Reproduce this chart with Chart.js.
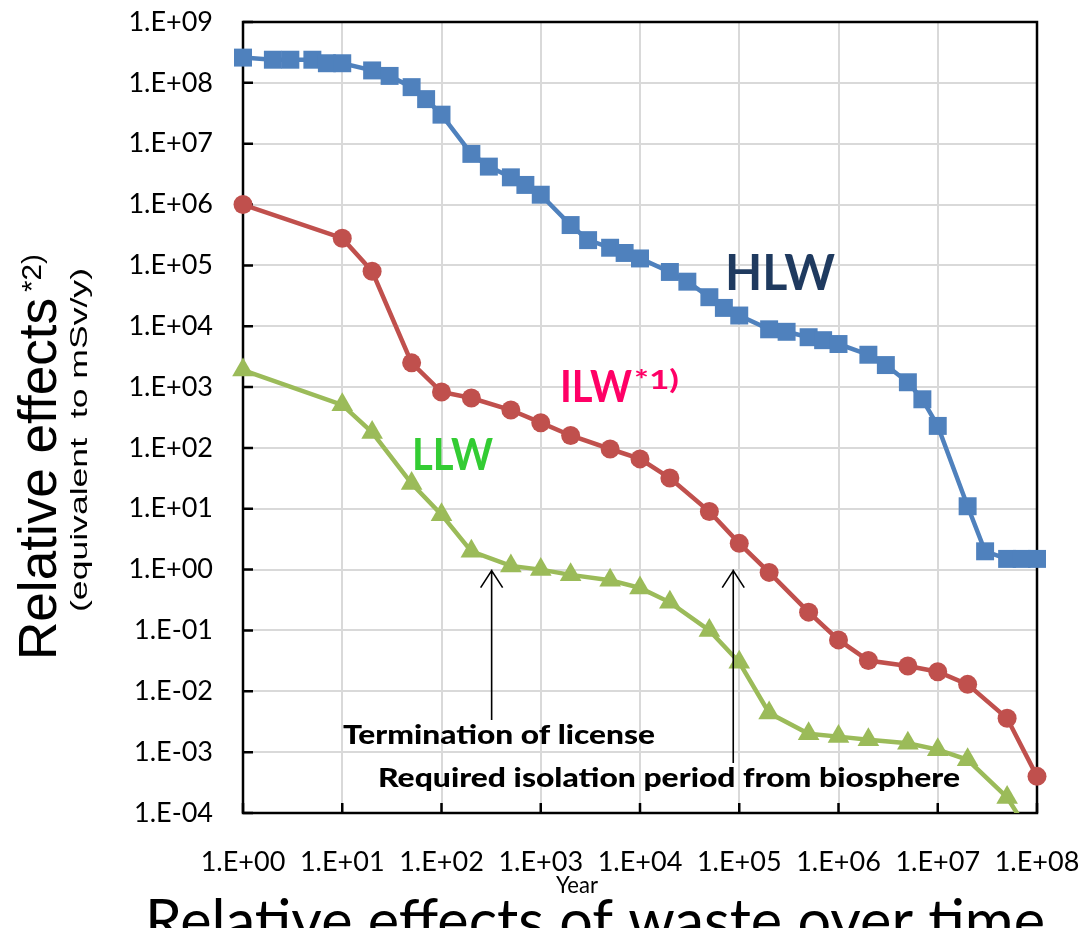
<!DOCTYPE html>
<html>
<head>
<meta charset="utf-8">
<script src="https://cdn.jsdelivr.net/npm/chart.js@4/dist/chart.umd.min.js"></script>
<style>
  html, body { margin: 0; padding: 0; background: #fff; }
  #wrap { width: 1086px; height: 928px; position: relative; }
</style>
</head>
<body>
<div id="wrap"><canvas id="c" width="1086" height="928"></canvas></div>
<script>
// ---- data ----
const xTickValues = [1, 1e1, 1e2, 1e3, 1e4, 1e5, 1e6, 1e7, 1e8];
const xTickLabels = ['1.E+00','1.E+01','1.E+02','1.E+03','1.E+04','1.E+05','1.E+06','1.E+07','1.E+08'];
const yTickValues = [1e-4, 1e-3, 1e-2, 1e-1, 1, 1e1, 1e2, 1e3, 1e4, 1e5, 1e6, 1e7, 1e8, 1e9];
const yTickLabels = ['1.E-04','1.E-03','1.E-02','1.E-01','1.E+00','1.E+01','1.E+02','1.E+03','1.E+04','1.E+05','1.E+06','1.E+07','1.E+08','1.E+09'];

const hlwYears = [1,2,3,5,7,10,20,30,50,70,100,200,300,500,700,1e3,2e3,3e3,5e3,7e3,1e4,2e4,3e4,5e4,7e4,1e5,2e5,3e5,5e5,7e5,1e6,2e6,3e6,5e6,7e6,1e7,2e7,3e7,5e7,7e7,1e8];
const hlwValues = [2.6e8,2.4e8,2.4e8,2.4e8,2.1e8,2.1e8,1.6e8,1.3e8,8.5e7,5.4e7,3.0e7,6.8e6,4.2e6,2.8e6,2.1e6,1.45e6,4.6e5,2.6e5,1.95e5,1.6e5,1.3e5,7.8e4,5.4e4,3.0e4,2.0e4,1.5e4,8.9e3,8.1e3,6.6e3,5.9e3,5.1e3,3.4e3,2.3e3,1.2e3,630,230,11,2.0,1.5,1.5,1.5];

const ilwYears = [1,10,20,50,100,200,500,1e3,2e3,5e3,1e4,2e4,5e4,1e5,2e5,5e5,1e6,2e6,5e6,1e7,2e7,5e7,1e8];
const ilwValues = [1.0e6,2.8e5,8.0e4,2.5e3,830,660,420,260,160,96,66,32,9,2.7,0.9,0.2,0.07,0.032,0.026,0.021,0.013,0.0036,0.0004];

const llwYears = [1,10,20,50,100,200,500,1e3,2e3,5e3,1e4,2e4,5e4,1e5,2e5,5e5,1e6,2e6,5e6,1e7,2e7,5e7,1e8];
const llwValues = [1.9e3,510,180,26,8,2,1.15,1.0,0.82,0.67,0.5,0.29,0.1,0.03,0.0044,0.002,0.0018,0.0016,0.0014,0.0011,0.00075,0.00018,0.00003];

const seriesNames = ['HLW', 'ILW', 'LLW'];
const arrowYears = [320, 8.7e4];

function pts(xs, ys) { return xs.map((x, i) => ({ x: x, y: ys[i] })); }

// ---- helpers ----
function fitText(ctx, text, x, y, width, font, color) {
  ctx.save();
  ctx.font = font;
  ctx.fillStyle = color;
  ctx.textAlign = 'left';
  ctx.textBaseline = 'alphabetic';
  const w = ctx.measureText(text).width;
  ctx.translate(x, y);
  if (width) ctx.scale(width / w, 1);
  ctx.fillText(text, 0, 0);
  ctx.restore();
}

const frame = {
  id: 'frame',
  beforeDatasetsDraw(chart) {
    const { ctx, chartArea: a } = chart;
    const xs = chart.scales.x, ys = chart.scales.y;
    ctx.save();
    ctx.strokeStyle = '#000';
    ctx.lineWidth = 2.5;
    ctx.beginPath();
    yTickValues.forEach(v => { const p = ys.getPixelForValue(v); ctx.moveTo(a.left, p); ctx.lineTo(a.left + 10, p); });
    xTickValues.forEach(v => { const p = xs.getPixelForValue(v); ctx.moveTo(p, a.bottom); ctx.lineTo(p, a.bottom - 10); });
    ctx.stroke();
    ctx.strokeRect(a.left, a.top, a.right - a.left, a.bottom - a.top);
    ctx.restore();
  },
  afterDraw(chart) {
    const { ctx } = chart;
    const xs = chart.scales.x, ys = chart.scales.y;
    ctx.save();
    ctx.strokeStyle = '#000';
    ctx.lineWidth = 1.6;
    const arrows = [[arrowYears[0], 1, 720], [arrowYears[1], 1, 763]];
    arrows.forEach(([t, v, yEnd]) => {
      const x = xs.getPixelForValue(t), y = ys.getPixelForValue(v);
      ctx.beginPath();
      ctx.moveTo(x, yEnd); ctx.lineTo(x, y);
      ctx.moveTo(x - 11, y + 18); ctx.lineTo(x, y + 1); ctx.lineTo(x + 11, y + 18);
      ctx.stroke();
    });
    ctx.restore();

    fitText(ctx, 'HLW', 725, 290, 110, 'bold 50px Lato', '#1F3A5F');
    fitText(ctx, 'ILW', 560, 402, 72, 'bold 44px Lato', '#FF0066');
    fitText(ctx, '*1)', 634, 389, 45, 'bold 26px Lato', '#FF0066');
    fitText(ctx, 'LLW', 412, 470, 81, 'bold 44px Lato', '#33CC33');

    fitText(ctx, 'Termination of license', 343, 744, 312, '900 26px Lato', '#000');
    fitText(ctx, 'Required isolation period from biosphere', 378, 787, 582, '900 26px Lato', '#000');

    fitText(ctx, 'Year', 556, 893, 42, '24px Lato', '#000');
    fitText(ctx, 'Relative effects of waste over time', 145, 942, 900, '60px Lato', '#000');

    ctx.save();
    ctx.translate(56, 660);
    ctx.rotate(-Math.PI / 2);
    fitText(ctx, 'Relative effects', 0, 0, 362, '54px "Liberation Sans", Arial, sans-serif', '#000');
    ctx.restore();
    ctx.save();
    ctx.translate(41, 292);
    ctx.rotate(-Math.PI / 2);
    fitText(ctx, '*2)', 0, 0, 38, '28px "Liberation Sans", Arial, sans-serif', '#000');
    ctx.restore();
    ctx.save();
    ctx.translate(87, 612);
    ctx.rotate(-Math.PI / 2);
    fitText(ctx, '(equivalent  to mSv/y)', 0, 0, 344, '24px "Liberation Sans", Arial, sans-serif', '#000');
    ctx.restore();
  }
};

const colors = ['#4F81BD', '#C0504D', '#9BBB59'];
const shapes = ['rect', 'circle', 'triangle'];
const radii = [12.7, 9.5, 12.5];
const datas = [pts(hlwYears, hlwValues), pts(ilwYears, ilwValues), pts(llwYears, llwValues)];

const datasets = datas.map((d, i) => ({
  label: seriesNames[i],
  data: d,
  borderColor: colors[i],
  backgroundColor: colors[i],
  borderWidth: 4.5,
  pointStyle: shapes[i],
  pointRadius: radii[i],
  pointBorderWidth: 0,
  pointBackgroundColor: colors[i],
  pointHoverRadius: radii[i],
  tension: 0,
  clip: { left: 30, right: 30, top: 30, bottom: 0 }
}));

function zeroPad(s) { s.paddingTop = 0; s.paddingBottom = 0; s.paddingLeft = 0; s.paddingRight = 0; }

new Chart(document.getElementById('c'), {
  type: 'line',
  data: { datasets: datasets },
  options: {
    responsive: false,
    animation: false,
    events: [],
    layout: { padding: { top: 22, right: 49, left: 0, bottom: 0 } },
    plugins: { legend: { display: false }, tooltip: { enabled: false }, title: { display: false } },
    scales: {
      x: {
        type: 'logarithmic',
        min: 1, max: 1e8,
        afterBuildTicks: s => { s.ticks = xTickValues.map(v => ({ value: v })); },
        afterFit: s => { s.height = 115; zeroPad(s); },
        ticks: {
          autoSkip: false, maxRotation: 0, minRotation: 0,
          padding: 33,
          color: '#000',
          font: { family: 'Lato', size: 27 },
          callback: (v) => xTickLabels[xTickValues.indexOf(v)] || ''
        },
        grid: { color: '#D9D9D9', lineWidth: 2, drawTicks: false },
        border: { display: false }
      },
      y: {
        type: 'logarithmic',
        min: 1e-4, max: 1e9,
        afterBuildTicks: s => { s.ticks = yTickValues.map(v => ({ value: v })); },
        afterFit: s => { s.width = 243; zeroPad(s); },
        ticks: {
          autoSkip: false,
          padding: 30,
          color: '#000',
          font: { family: 'Lato', size: 27 },
          callback: (v) => yTickLabels[yTickValues.indexOf(v)] || ''
        },
        grid: { color: '#D9D9D9', lineWidth: 2, drawTicks: false },
        border: { display: false }
      }
    }
  },
  plugins: [frame]
});
</script>
</body>
</html>
